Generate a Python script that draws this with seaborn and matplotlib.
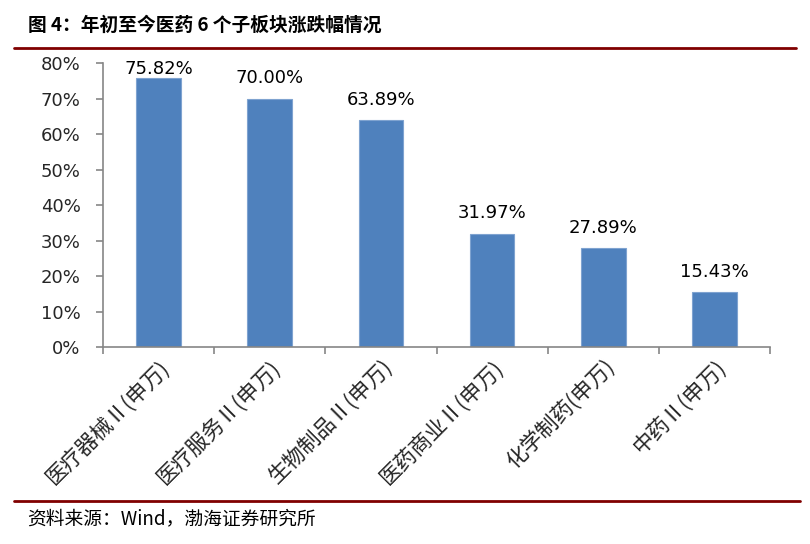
import matplotlib
matplotlib.use("Agg")
import matplotlib.pyplot as plt
import seaborn as sns
import pandas as pd
from matplotlib.ticker import FixedLocator, FuncFormatter
from matplotlib.lines import Line2D

# sector names and YTD change (%)
sectors = ["医疗器械Ⅱ(申万)", "医疗服务Ⅱ(申万)", "生物制品Ⅱ(申万)",
           "医药商业Ⅱ(申万)", "化学制药(申万)", "中药Ⅱ(申万)"]
changes = [75.82, 70.00, 63.89, 31.97, 27.89, 15.43]
y_ticks = [0, 10, 20, 30, 40, 50, 60, 70, 80]

title_text = "图 4：年初至今医药 6 个子板块涨跌幅情况"
source_text = "资料来源：Wind，渤海证券研究所"

sns.set_theme(style="white")
plt.rcParams["font.family"] = ["Noto Sans CJK SC", "DejaVu Sans"]

df = pd.DataFrame({"sector": sectors, "change": changes})

fig = plt.figure(figsize=(8.1, 5.44), dpi=100)
ax = fig.add_axes([0.127, 0.362, 0.824, 0.522])

sns.barplot(data=df, x="sector", y="change", color="#4F81BD", width=0.4,
            saturation=1, edgecolor="#7FA3D0", linewidth=0.8, ax=ax)

# value labels above bars (squeezed down when close to the top)
for i, v in enumerate(changes):
    off = 8 if v < 72 else 0
    ax.annotate(f"{v:.2f}%", (i, v), xytext=(0, off), textcoords="offset points",
                ha="center", va="bottom", fontsize=13, color="black",
                family="DejaVu Sans")

ax.set_xlim(-0.5, len(sectors) - 0.5)
ax.set_ylim(0, 80)
ax.set_yticks(y_ticks)
ax.yaxis.set_major_formatter(FuncFormatter(lambda v, p: f"{v:.0f}%"))
ax.set_xlabel("")
ax.set_ylabel("")

for s in ["top", "right"]:
    ax.spines[s].set_visible(False)
for s in ["left", "bottom"]:
    ax.spines[s].set_color("#868686")
    ax.spines[s].set_linewidth(1.2)

ax.tick_params(axis="y", which="major", left=True, length=5, width=1.2,
               color="#868686", labelsize=13, pad=11)
for lbl in ax.get_yticklabels():
    lbl.set_family("DejaVu Sans")

# ticks between categories
ax.xaxis.set_minor_locator(FixedLocator([i - 0.5 for i in range(len(sectors) + 1)]))
ax.tick_params(axis="x", which="major", length=0, labelsize=15.5, pad=6)
ax.tick_params(axis="x", which="minor", bottom=True, length=5, width=1.2,
               color="#868686")
plt.setp(ax.get_xticklabels(), rotation=45, ha="right", rotation_mode="anchor")

# title and source with dark red rules
fig.text(0.034, 0.953, title_text, fontsize=13.5, fontweight="bold",
         ha="left", va="center", color="black")
fig.add_artist(Line2D([0.017, 0.983], [0.911, 0.911], color="#800000",
                      linewidth=2, transform=fig.transFigure))
fig.add_artist(Line2D([0.017, 0.988], [0.079, 0.079], color="#800000",
                      linewidth=2, transform=fig.transFigure))
fig.text(0.034, 0.047, source_text, fontsize=13.5, style="italic",
         ha="left", va="center", color="black")

fig.savefig("out.png", dpi=100)
